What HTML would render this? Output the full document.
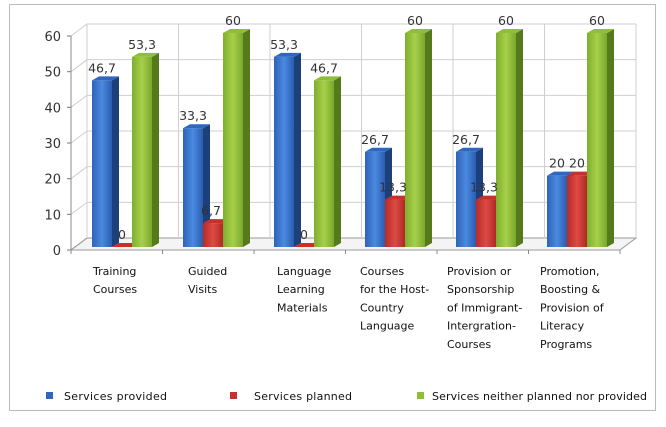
<!DOCTYPE html>
<html><head><meta charset="utf-8"><style>
body{margin:0;background:#fff;width:666px;height:422px;overflow:hidden;font-family:"Liberation Sans","DejaVu Sans",sans-serif}
svg text{font-family:"DejaVu Sans","Liberation Sans",sans-serif}
</style></head><body>
<svg id="c" width="666" height="422">
<defs>
<linearGradient id="gb" x1="0" x2="1"><stop offset="0" stop-color="#2e63b8"/><stop offset=".5" stop-color="#4a8ae0"/><stop offset="1" stop-color="#2a5cb0"/></linearGradient>
<linearGradient id="gr" x1="0" x2="1"><stop offset="0" stop-color="#b82a28"/><stop offset=".5" stop-color="#de4a44"/><stop offset="1" stop-color="#b02826"/></linearGradient>
<linearGradient id="gg" x1="0" x2="1"><stop offset="0" stop-color="#7fae2e"/><stop offset=".5" stop-color="#a6d04a"/><stop offset="1" stop-color="#7aa82c"/></linearGradient>
</defs>
<rect x="9.5" y="4.5" width="646" height="406" fill="#fff" stroke="#bbb"/>
<g id="grid"></g><g id="bars"></g><g id="lbl"></g>
</svg>
<script>
const categories=[["Training","Courses"],["Guided","Visits"],["Language","Learning","Materials"],["Courses","for the Host-","Country","Language"],["Provision or","Sponsorship","of Immigrant-","Intergration-","Courses"],["Promotion,","Boosting &","Provision of","Literacy","Programs"]];
const provided=[46.7,33.3,53.3,26.7,26.7,20];
const planned=[0,6.7,0,13.3,13.3,20];
const neither=[53.3,60,46.7,60,60,60];
const ticks=[0,10,20,30,40,50,60];
const seriesNames=["Services provided","Services planned","Services neither planned nor provided"];
const NS="http://www.w3.org/2000/svg";
const svg=document.getElementById('c');
const X0=71,Y0=250,S=(250-36)/60,DX=16,DY=-12,XR=620,GW=91,G0=92,BW=20;
const y=v=>Y0-v*S;
function el(t,a,p){const e=document.createElementNS(NS,t);for(const k in a)e.setAttribute(k,a[k]);(p||svg).appendChild(e);return e;}
const grid=document.getElementById('grid'),bars=document.getElementById('bars'),lbl=document.getElementById('lbl');
let f=el('polygon',{points:`${X0},${Y0} ${X0+DX},${Y0+DY} ${XR+DX},${Y0+DY} ${XR},${Y0}`,fill:'#f4f4f4',stroke:'#999'},grid);

ticks.forEach(t=>{
 let g=el('polyline',{points:`${X0},${y(t)} ${X0+DX},${y(t)+DY} ${XR+DX},${y(t)+DY}`,fill:'none',stroke:t?'#cfcfcf':'#999'},grid);
 
 el('line',{x1:X0-4,y1:y(t),x2:X0,y2:y(t),stroke:'#777'},grid);
 let tx=el('text',{x:X0-10,y:y(t)+5,'text-anchor':'end','font-size':13,fill:'#333'},grid);tx.textContent=t;
 
});
el('line',{x1:X0,y1:Y0,x2:X0,y2:y(60),stroke:'#888'},grid);
el('line',{x1:X0+DX,y1:Y0+DY,x2:X0+DX,y2:y(60)+DY,stroke:'#bbb'},grid);
el('line',{x1:XR+DX,y1:Y0+DY,x2:XR+DX,y2:y(60)+DY,stroke:'#bbb'},grid);
for(let i=0;i<=6;i++){const xv=X0+i*(XR-X0)/6;el('line',{x1:xv+DX,y1:Y0+DY,x2:xv+DX,y2:y(60)+DY,stroke:'#cfcfcf'},grid);el('line',{x1:xv,y1:Y0,x2:xv,y2:Y0+4,stroke:'#888'},grid);}
const series=[provided,planned,neither],fills=['url(#gb)','url(#gr)','url(#gg)'],tops=['#2f66c0','#c8302c','#8fbf36'],sides=['#1d3f7a','#7a1a18','#557a1c'],names=['bar-provided','bar-planned','bar-neither'];
const by=-3,d=7,dd=-4;
const lx=[93,188,277,360,447,540];
categories.forEach((c,i)=>{
 series.forEach((s,j)=>{
  const v=s[i],x=G0+i*GW+j*BW,b=Y0+by,t=b-v*S;
  const g=el('g',{},bars);
  el('rect',{x:x,y:t,width:BW,height:b-t,fill:fills[j]},g);
  el('polygon',{points:`${x+BW},${t} ${x+BW+d},${t+dd} ${x+BW+d},${b+dd} ${x+BW},${b}`,fill:sides[j]},g);
  el('polygon',{points:`${x},${t} ${x+d},${t+dd} ${x+BW+d},${t+dd} ${x+BW},${t}`,fill:tops[j]},g);
  const vl=el('text',{x:x+BW/2+(j==1&&v<15&&v>0?-2:0),y:t-8,'text-anchor':'middle','font-size':12.5,fill:'#333'},lbl);vl.textContent=String(v).replace('.',',');
  
 });
 c.forEach((ln,k)=>{const t=el('text',{x:lx[i],y:275+k*18.2,'font-size':11,fill:'#111'},lbl);t.textContent=ln;
 });
});
const legX=[46,230,417],legT=[64,254,432],legW=[103,98,215];
seriesNames.forEach((n,j)=>{
 const g=el('g',{},svg);
 el('rect',{x:legX[j],y:392,width:7,height:7,fill:tops[j]},g);
 const t=el('text',{x:legT[j],y:400,'font-size':11,fill:'#111',textLength:legW[j],lengthAdjust:'spacing'},g);t.textContent=n;
});
</script>
</body></html>
